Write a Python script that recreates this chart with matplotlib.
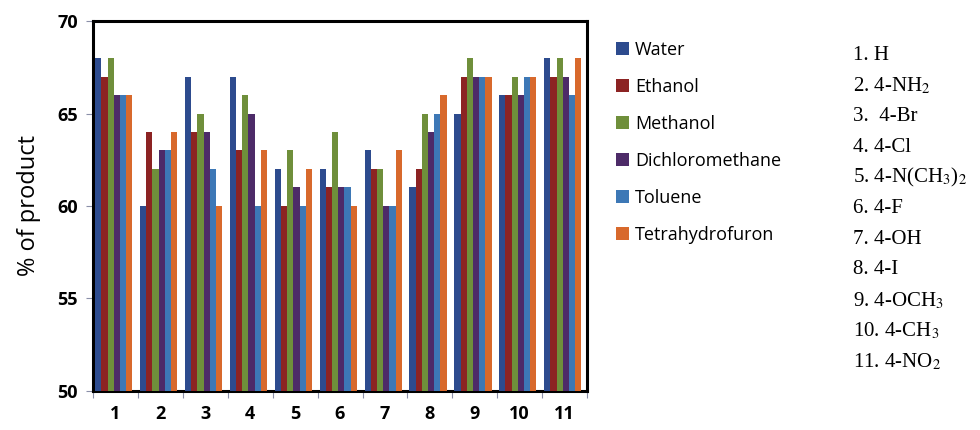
import numpy as np
import matplotlib
matplotlib.use("Agg")
import matplotlib.pyplot as plt

plt.rcParams['font.family'] = ['Open Sans', 'DejaVu Sans']
plt.rcParams['mathtext.fontset'] = 'stix'

# yields (% of product) per substituent, one list per solvent
groups = ['1', '2', '3', '4', '5', '6', '7', '8', '9', '10', '11']
solvents = ['Water', 'Ethanol', 'Methanol', 'Dichloromethane', 'Toluene', 'Tetrahydrofuron']
water = [68, 60, 67, 67, 62, 62, 63, 61, 65, 66, 68]
ethanol = [67, 64, 64, 63, 60, 61, 62, 62, 67, 66, 67]
methanol = [68, 62, 65, 66, 63, 64, 62, 65, 68, 67, 68]
dichloromethane = [66, 63, 64, 65, 61, 61, 60, 64, 67, 66, 67]
toluene = [66, 63, 62, 60, 60, 61, 60, 65, 67, 67, 66]
thf = [66, 64, 60, 63, 62, 60, 63, 66, 67, 67, 68]
series = [water, ethanol, methanol, dichloromethane, toluene, thf]
colors = ['#2d4b8e', '#8c2323', '#6f8f3b', '#4d2b68', '#3d78b6', '#d8692c']

substituents = ['1. H', '2. 4-NH$_2$', '3.  4-Br', '4. 4-Cl', '5. 4-N(CH$_3$)$_2$',
                '6. 4-F', '7. 4-OH', '8. 4-I', '9. 4-OCH$_3$', '10. 4-CH$_3$', '11. 4-NO$_2$']

base = 50
fig = plt.figure(figsize=(9.8, 4.3), dpi=100)
ax = fig.add_axes([0.095, 0.091, 0.504, 0.860])

x = np.arange(1, len(groups) + 1)
w = 0.138
for i, (vals, c, name) in enumerate(zip(series, colors, solvents)):
    pos = x - 2.5 * w + i * w - 0.04
    ax.bar(pos, np.array(vals) - base, bottom=base, width=w, color=c,
           label=name, zorder=3)

ax.set_xlim(0.5, 11.5)
ax.set_ylim(50, 70)
ax.set_yticks([50, 55, 60, 65, 70])
ax.set_xticks(np.arange(0.5, 12, 1))
ax.set_xticklabels([])
ax.set_xticks(x, minor=True)
ax.set_xticklabels(groups, minor=True)
ax.tick_params(axis='x', which='minor', length=0, pad=10, labelsize=13)
ax.tick_params(axis='x', which='major', length=5, color='#8a8fa8', direction='out')
ax.tick_params(axis='y', length=5, color='#8a8fa8', labelsize=13, pad=6)
for lab in ax.get_yticklabels() + ax.get_xticklabels(minor=True):
    lab.set_fontweight('bold')
for s in ax.spines.values():
    s.set_linewidth(2.2)
    s.set_color('black')
ax.set_ylabel('% of product', fontsize=17, labelpad=12)

leg = ax.legend(loc='upper left', bbox_to_anchor=(1.025, 0.99), frameon=False,
                fontsize=13, handlelength=0.72, handleheight=0.72,
                handletextpad=0.35, labelspacing=1.05)

# substituent key on the right
for k, txt in enumerate(substituents):
    fig.text(0.870, 0.872 - k * 0.0714, txt, fontsize=15,
             family='Liberation Serif', va='center', ha='left')

fig.savefig('out.png', dpi=100)
